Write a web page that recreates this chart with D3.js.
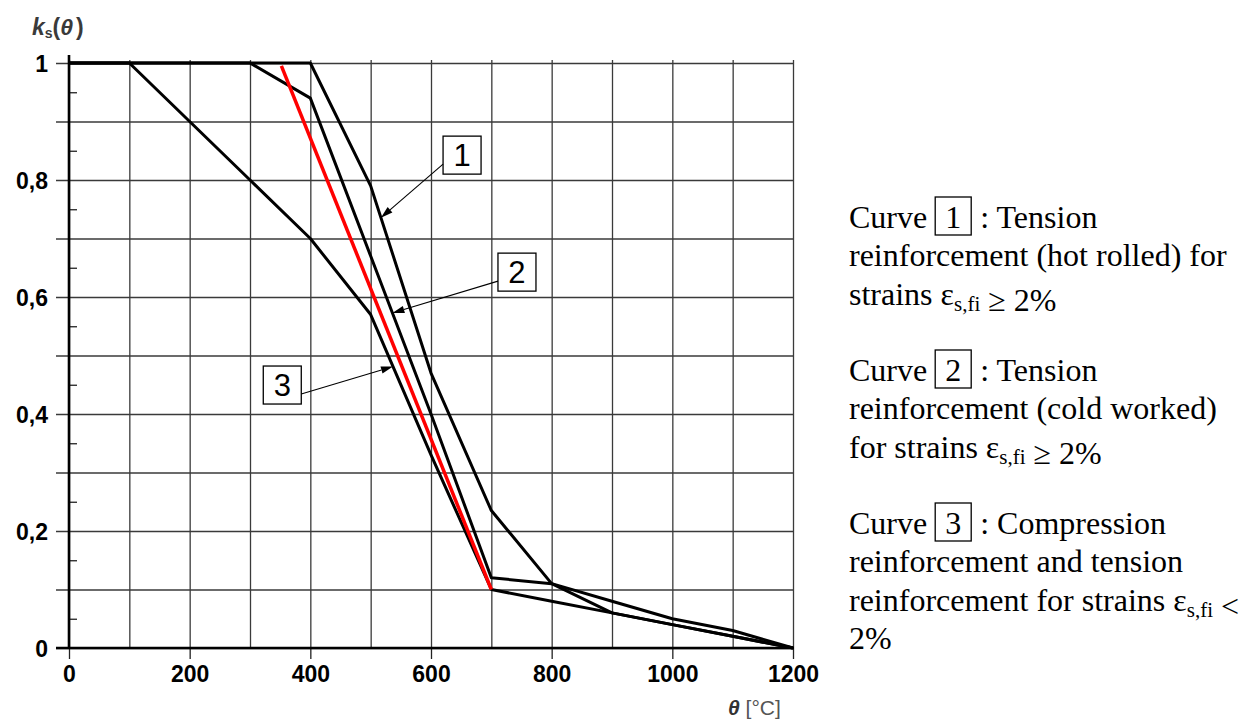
<!DOCTYPE html>
<html>
<head>
<meta charset="utf-8">
<script src="https://cdn.jsdelivr.net/npm/d3@7"></script>
<style>
  body { margin: 0; background: #fff; }
  svg { display: block; }
</style>
</head>
<body>
<svg id="chart" width="1252" height="722"></svg>
<script>
// Reduction factor k_s(θ) of reinforcing steel strength at elevated temperature
const temperatures = [0, 100, 200, 300, 400, 500, 600, 700, 800, 900, 1000, 1100, 1200];
const curve1 = [1, 1, 1, 1, 1, 0.79, 0.47, 0.235, 0.11, 0.06, 0.04, 0.02, 0];   // hot rolled, tension
const curve2 = [1, 1, 1, 1, 0.94, 0.67, 0.40, 0.12, 0.11, 0.08, 0.05, 0.03, 0]; // cold worked, tension
const curve3 = [1, 1, 0.9, 0.8, 0.7, 0.57, 0.33, 0.10, 0.08, 0.06, 0.04, 0.02, 0]; // compression
const redTemperatures = [352, 700];
const redValues = [0.995, 0.10];

const xTickLabels = [0, 200, 400, 600, 800, 1000, 1200];
const xGridValues = [0, 100, 200, 300, 400, 500, 600, 700, 800, 900, 1000, 1100, 1200];
const yTickLabels = [0, 0.2, 0.4, 0.6, 0.8, 1];
const yGridValues = [0, 0.1, 0.2, 0.3, 0.4, 0.5, 0.6, 0.7, 0.8, 0.9, 1];
const yMinorValues = [0.05, 0.15, 0.25, 0.35, 0.45, 0.55, 0.65, 0.75, 0.85, 0.95];

const curveNames = ["1", "2", "3"];
// callout boxes: top-left corner in data units, and the temperature where the arrow meets its curve
const calloutBoxTemps = [620, 711, 322];
const calloutBoxValues = [0.875, 0.675, 0.482];
const calloutTargetTemps = [517, 536, 537];

const legendHeads = [": Tension", ": Tension", ": Compression"];
const legendBodies = [
  ["reinforcement (hot rolled) for", "strains ε{s,fi} ≥ 2%"],
  ["reinforcement (cold worked)", "for strains ε{s,fi} ≥ 2%"],
  ["reinforcement and tension", "reinforcement for strains ε{s,fi} <", "2%"]
];

const svg = d3.select("#chart");
const plotLeft = 69, plotRight = 793, plotTop = 63, plotBottom = 648;
const x = d3.scaleLinear().domain([0, 1200]).range([plotLeft, plotRight]);
const y = d3.scaleLinear().domain([0, 1]).range([plotBottom, plotTop]);
const comma = d3.formatLocale({ decimal: ",", thousands: ".", grouping: [3], currency: ["", ""] }).format("~g");

const sans = "'Liberation Sans', Arial, Helvetica, sans-serif";
const serif = "'Liberation Serif', 'Times New Roman', Times, serif";

// horizontal grid (extends past the axis on the left)
const gy = svg.append("g").attr("transform", `translate(56,0)`)
  .call(d3.axisLeft(y).tickValues(yGridValues).tickSize(-(plotRight - 56)).tickFormat(""));
gy.select(".domain").remove();
gy.selectAll("line").attr("stroke", "#3a3a3a").attr("stroke-width", 1.3);

// vertical grid
const gx = svg.append("g").attr("transform", `translate(0,${plotBottom})`)
  .call(d3.axisBottom(x).tickValues(xGridValues).tickSize(-(plotBottom - plotTop + 3)).tickFormat(""));
gx.select(".domain").remove();
gx.selectAll("line").attr("stroke", "#3a3a3a").attr("stroke-width", 1.3);

// minor ticks inside the y axis
const gm = svg.append("g").attr("transform", `translate(${plotLeft},0)`)
  .call(d3.axisRight(y).tickValues(yMinorValues).tickSize(8).tickFormat(""));
gm.select(".domain").remove();
gm.selectAll("line").attr("stroke", "#222").attr("stroke-width", 1.3);

// x axis labels with ticks below
const ax = svg.append("g").attr("transform", `translate(0,${plotBottom})`)
  .call(d3.axisBottom(x).tickValues(xTickLabels).tickSize(11).tickPadding(7).tickFormat(d3.format("d")));
ax.select(".domain").remove();
ax.selectAll("line").attr("stroke", "#222").attr("stroke-width", 1.3);
ax.selectAll("text").attr("font-family", sans).attr("font-weight", "bold")
  .attr("font-size", 23).attr("fill", "#000");

// y axis labels
const ay = svg.append("g").attr("transform", `translate(56,0)`)
  .call(d3.axisLeft(y).tickValues(yTickLabels).tickSize(0).tickPadding(8).tickFormat(comma));
ay.select(".domain").remove();
ay.selectAll("text").attr("font-family", sans).attr("font-weight", "bold")
  .attr("font-size", 23).attr("fill", "#000").attr("dy", "0.38em");

// heavy axis lines
svg.append("line").attr("x1", plotLeft).attr("x2", plotLeft).attr("y1", 55).attr("y2", plotBottom + 1)
  .attr("stroke", "#000").attr("stroke-width", 2.6);
svg.append("line").attr("x1", 56).attr("x2", plotRight + 1).attr("y1", plotBottom).attr("y2", plotBottom)
  .attr("stroke", "#000").attr("stroke-width", 2.6);

// curves
const line = d3.line().x(d => x(d[0])).y(d => y(d[1]));
const curves = [curve1, curve2, curve3];
curves.forEach(vals => {
  svg.append("path").datum(temperatures.map((t, i) => [t, vals[i]]))
    .attr("d", line).attr("fill", "none").attr("stroke", "#000")
    .attr("stroke-width", 3).attr("stroke-linejoin", "round");
});
svg.append("path").datum(redTemperatures.map((t, i) => [t, redValues[i]]))
  .attr("d", line).attr("fill", "none").attr("stroke", "#ff0000").attr("stroke-width", 3.5);

// callouts
function valueAt(vals, t) {
  return d3.scaleLinear().domain(temperatures).range(vals)(t);
}
const boxSize = 38;
curveNames.forEach((name, i) => {
  const bx = x(calloutBoxTemps[i]), by = y(calloutBoxValues[i]);
  const tx = x(calloutTargetTemps[i]), ty = y(valueAt(curves[i], calloutTargetTemps[i]));
  svg.append("rect").attr("x", bx).attr("y", by).attr("width", boxSize).attr("height", boxSize)
    .attr("fill", "#fff").attr("stroke", "#000").attr("stroke-width", 1.3);
  svg.append("text").attr("x", bx + boxSize / 2).attr("y", by + boxSize / 2 + 11)
    .attr("text-anchor", "middle").attr("font-family", sans).attr("font-size", 31)
    .attr("fill", "#000").text(name);
  // leader leaves from the side of the box facing the curve
  const sx = tx < bx ? bx : bx + boxSize;
  const sy = by + 28;
  const ang = Math.atan2(ty - sy, tx - sx);
  const len = 12, half = 3.6;
  const baseX = tx - len * Math.cos(ang), baseY = ty - len * Math.sin(ang);
  svg.append("line").attr("x1", sx).attr("y1", sy).attr("x2", baseX).attr("y2", baseY)
    .attr("stroke", "#000").attr("stroke-width", 1.1);
  svg.append("path").attr("fill", "#000").attr("d",
    `M${tx},${ty}L${baseX - half * Math.sin(ang)},${baseY + half * Math.cos(ang)}` +
    `L${baseX + half * Math.sin(ang)},${baseY - half * Math.cos(ang)}Z`);
});

// axis titles
const yTitle = svg.append("text").attr("x", 32).attr("y", 35)
  .attr("font-family", sans).attr("font-weight", "bold").attr("font-size", 23).attr("fill", "#3a3a3a");
yTitle.append("tspan").attr("font-style", "italic").text("k");
yTitle.append("tspan").attr("font-size", 14).attr("dy", 3).text("s");
yTitle.append("tspan").attr("dy", -3).text("(");
yTitle.append("tspan").attr("font-style", "italic").text("θ");
yTitle.append("tspan").attr("dx", 3).text(")");

const xTitle = svg.append("text").attr("x", 728).attr("y", 715)
  .attr("font-family", sans).attr("font-size", 21).attr("fill", "#555");
xTitle.append("tspan").attr("font-weight", "bold").attr("font-style", "italic").attr("fill", "#333").text("θ");
xTitle.append("tspan").text(" [°C]");

// legend
const lx = 849, lineH = 38.25;
let lineNo = 0;
const legendFont = 32;
function writeRich(sel, str) {
  const parts = str.split(/\{([^}]*)\}/);
  parts.forEach((p, k) => {
    if (!p) return;
    if (k % 2 === 1) {
      sel.append("tspan").attr("font-size", 21).attr("dy", 6).text(p);
      sel.append("tspan").attr("dy", -6).text("");
    } else {
      sel.append("tspan").text(p);
    }
  });
}
curveNames.forEach((name, i) => {
  const base = 228 + lineH * lineNo;
  const head = svg.append("text").attr("x", lx).attr("y", base)
    .attr("font-family", serif).attr("font-size", legendFont).attr("fill", "#000").text("Curve");
  const w = head.node().getComputedTextLength();
  const bx = lx + w + 8;
  svg.append("rect").attr("x", bx).attr("y", base - 31).attr("width", 36).attr("height", 38)
    .attr("fill", "none").attr("stroke", "#000").attr("stroke-width", 1.3);
  svg.append("text").attr("x", bx + 18).attr("y", base).attr("text-anchor", "middle")
    .attr("font-family", serif).attr("font-size", legendFont).attr("fill", "#000").text(name);
  svg.append("text").attr("x", bx + 45).attr("y", base)
    .attr("font-family", serif).attr("font-size", legendFont).attr("fill", "#000").text(legendHeads[i]);
  lineNo++;
  legendBodies[i].forEach(str => {
    const t = svg.append("text").attr("x", lx).attr("y", 228 + lineH * lineNo)
      .attr("font-family", serif).attr("font-size", legendFont).attr("fill", "#000");
    writeRich(t, str);
    lineNo++;
  });
  lineNo++;
});
</script>
</body>
</html>
